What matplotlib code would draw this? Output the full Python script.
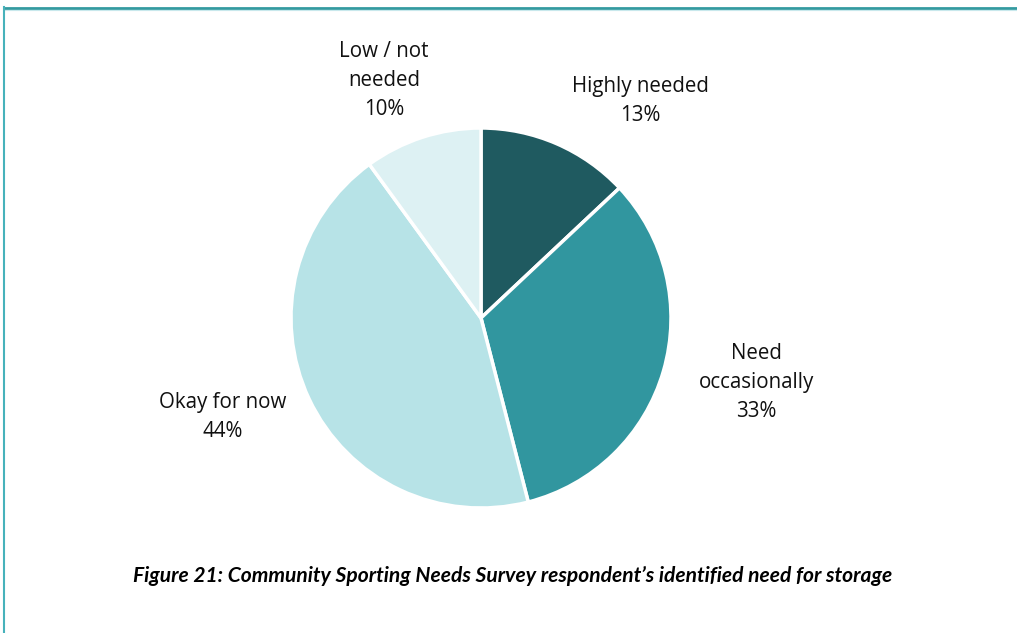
import matplotlib.pyplot as plt
from matplotlib.lines import Line2D

# survey answers, clockwise from 12 o'clock
categories = ['Highly needed', 'Need\noccasionally', 'Okay for now', 'Low / not\nneeded']
shares = [13, 33, 44, 10]
colours = ['#1f5a60', '#31969f', '#b7e3e7', '#ddf1f3']
# where each label sits, in units of the pie radius
label_xy = [(0.84, 1.14), (1.45, -0.34), (-1.36, -0.52), (-0.51, 1.25)]

caption = ('Figure 21: Community Sporting Needs Survey respondent\u2019s '
           'identified need for storage')

W, H = 1017, 633
fig = plt.figure(figsize=(W / 100, H / 100), dpi=100, facecolor='white')

# pie centred at (481, 318) px with a 190 px radius
cx, cy, r = 481, 318, 190
ax = fig.add_axes([(cx - r) / W, 1 - (cy + r) / H, 2 * r / W, 2 * r / H])
ax.pie(shares, colors=colours, startangle=90, counterclock=False,
       radius=1, wedgeprops=dict(edgecolor='white', linewidth=2.5))
ax.set_xlim(-1, 1)
ax.set_ylim(-1, 1)
ax.set_aspect('equal')
ax.axis('off')

for name, val, (lx, ly) in zip(categories, shares, label_xy):
    ax.text(lx, ly, f'{name}\n{val}%', ha='center', va='center',
            fontsize=14.8, family='Open Sans', color='#111111',
            linespacing=1.5, clip_on=False)

fig.text(513 / W, 1 - 576 / H, caption, ha='center', va='center',
         fontsize=15.1, family='Lato', fontweight='bold',
         fontstyle='italic', color='black')

# frame: teal line along top and left edge
fig.add_artist(Line2D([4 / W, 1], [1 - 8 / H, 1 - 8 / H], color='#339aa0',
                      linewidth=2, transform=fig.transFigure))
fig.add_artist(Line2D([4 / W, 1], [1 - 9.8 / H, 1 - 9.8 / H], color='#c8e8ec',
                      linewidth=0.8, transform=fig.transFigure))
fig.add_artist(Line2D([4 / W, 4 / W], [0, 1 - 7 / H], color='#47b2bb',
                      linewidth=1.5, transform=fig.transFigure))

fig.savefig('out.png', dpi=100)
